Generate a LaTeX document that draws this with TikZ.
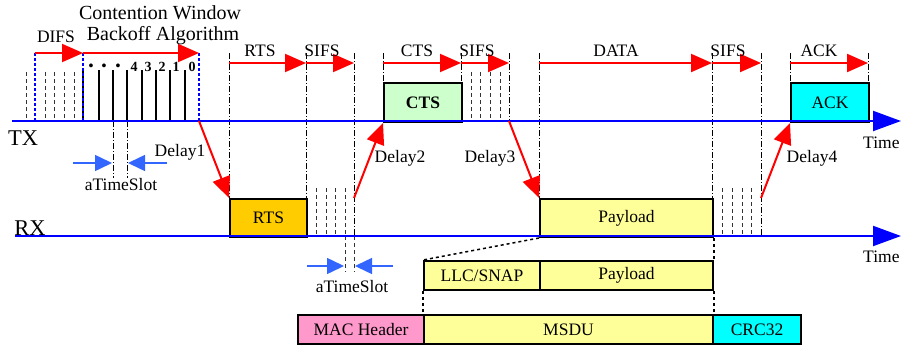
\documentclass[tikz,border=0pt]{standalone}
\usepackage{fontspec}
\setmainfont{Liberation Serif}
\usetikzlibrary{arrows.meta}
\definecolor{rtsorange}{HTML}{FFCC00}
\definecolor{ctsgreen}{HTML}{CCFFCC}
\definecolor{paleyellow}{HTML}{FFFF99}
\definecolor{macpink}{HTML}{FF99CC}
\definecolor{ackcyan}{HTML}{00FFFF}
\definecolor{slotblue}{HTML}{3366FF}
\begin{document}
\begin{tikzpicture}[x=1pt,y=-1pt,
  lbl/.style={font=\fontsize{17.5}{20}\selectfont, inner sep=0pt},
  biglbl/.style={font=\fontsize{20}{22}\selectfont, inner sep=0pt},
  axislbl/.style={font=\fontsize{22.5}{24}\selectfont, inner sep=0pt},
  numlbl/.style={font=\fontsize{14}{15}\selectfont\bfseries, inner sep=0pt},
  framebox/.style={draw=black, line width=2pt, inner sep=0pt, anchor=north west, font=\fontsize{17.5}{20}\selectfont},
  axisline/.style={draw=blue, line width=2pt, -{Triangle[length=28pt,width=20pt]}},
  redarrow/.style={draw=red, line width=2pt, -{Triangle[length=21pt,width=18pt]}},
  ddline/.style={draw=black, line width=0.7pt, dash pattern=on 6pt off 2pt on 1pt off 2pt},
  shortdash/.style={draw=black!80, line width=1pt, dash pattern=on 4pt off 3pt},
  bluedot/.style={draw=blue, line width=2pt, dash pattern=on 3pt off 2pt},
  solidtick/.style={draw=black, line width=2pt},
  slotarrow/.style={draw=slotblue, line width=1.5pt, -{Triangle[length=17pt,width=16pt]}},
  dotline/.style={draw=black, line width=1.5pt, dash pattern=on 3pt off 3pt},
]
\useasboundingbox (0,0) rectangle (901,348);

% ---------- TX left: DIFS + backoff ----------
\draw[shortdash] (26,72) -- (26,121);
\foreach \x in {45,54,64,74} \draw[shortdash] (\x,72) -- (\x,121);
\draw[solidtick] (83,70) -- (83,121);
\foreach \x in {99,113,127,142,156,170,185} \draw[solidtick] (\x,70) -- (\x,121);
\foreach \x in {35,83,199} \draw[bluedot] (\x,53) -- (\x,121);
\node[numlbl] (d1) at (91,67) {\textbullet};
\node[numlbl] (d2) at (104,67) {\textbullet};
\node[numlbl] (d3) at (118,67) {\textbullet};
\node[numlbl] (n4) at (134,67) {4};
\node[numlbl] (n3) at (148,67) {3};
\node[numlbl] (n2) at (162,67) {2};
\node[numlbl] (n1) at (176,67) {1};
\node[numlbl] (n0) at (192,67) {0};

\coordinate (difsA) at (35,53);
\coordinate (difsB) at (83,53);
\coordinate (cwB) at (199,53);
\draw[redarrow] (difsA) -- (difsB);
\draw[redarrow] (difsB) -- (cwB);
\node[lbl] (difs) at (56,37) {DIFS};
\node[biglbl] (cw1) at (160,13) {Contention Window};
\node[biglbl] (cw2) at (163,36) {Backoff Algorithm};

% aTimeSlot (upper)
\draw[ddline] (113,121) -- (113,178);
\draw[ddline] (127,121) -- (127,178);
\coordinate (s1a) at (73,163); \coordinate (s1b) at (112,163);
\coordinate (s2a) at (167,163); \coordinate (s2b) at (128,163);
\draw[slotarrow] (s1a) -- (s1b);
\draw[slotarrow] (s2a) -- (s2b);
\node[lbl] (slot1) at (121,185) {aTimeSlot};

% ---------- vertical dash-dot guides ----------
\draw[ddline] (229,53) -- (229,198);
\draw[ddline] (306,53) -- (306,236);
\draw[ddline] (354,53) -- (354,236);
\draw[ddline] (383,53) -- (383,82);
\draw[ddline] (461,53) -- (461,82);
\draw[ddline] (509,53) -- (509,121);
\draw[ddline] (539,53) -- (539,198);
\draw[ddline] (712,53) -- (712,198);
\draw[ddline] (761,53) -- (761,236);
\draw[ddline] (790,53) -- (790,82);
\draw[ddline] (868,53) -- (868,82);

% SIFS short dashes
\foreach \x in {316,326,335,345} \draw[shortdash] (\x,188) -- (\x,236);
\foreach \x in {471,480,490,500} \draw[shortdash] (\x,72) -- (\x,121);
\foreach \x in {722,732,742,751} \draw[shortdash] (\x,188) -- (\x,236);

% lower aTimeSlot
\draw[shortdash] (345,236) -- (345,272);
\draw[shortdash] (354,236) -- (354,272);
\coordinate (s3a) at (307,266); \coordinate (s3b) at (344,266);
\coordinate (s4a) at (393,266); \coordinate (s4b) at (355,266);
\draw[slotarrow] (s3a) -- (s3b);
\draw[slotarrow] (s4a) -- (s4b);
\node[lbl] (slot2) at (352,287) {aTimeSlot};

% ---------- top red arrows ----------
\foreach \a/\b in {229/306,306/354,383/461,461/509,539/712,712/761,790/868}
  \draw[redarrow] (\a,63) -- (\b,63);
\node[lbl] (lrts) at (260,51) {RTS};
\node[lbl] (lsifs1) at (322,51) {SIFS};
\node[lbl] (lcts) at (417,51) {CTS};
\node[lbl] (lsifs2) at (477,51) {SIFS};
\node[lbl] (ldata) at (616,51) {DATA};
\node[lbl] (lsifs3) at (728,51) {SIFS};
\node[lbl] (lack) at (819,51) {ACK};

% ---------- frames ----------
\node[framebox, fill=rtsorange, minimum width=77pt, minimum height=38pt] (rts) at (229,198) {RTS};
\node[framebox, fill=ctsgreen, minimum width=78pt, minimum height=39pt, font=\fontsize{17.5}{20}\selectfont\bfseries] (cts) at (383,82) {CTS};
\node[framebox, fill=ackcyan, minimum width=78pt, minimum height=39pt] (ack) at (790,82) {ACK};
\node[framebox, fill=paleyellow, minimum width=173pt, minimum height=38pt] (pay) at (539,198) {Payload};
\node[framebox, fill=paleyellow, minimum width=116pt, minimum height=29pt] (llc) at (423,260) {LLC/SNAP};
\node[framebox, fill=paleyellow, minimum width=173pt, minimum height=29pt] (pay2) at (539,260) {Payload};
\node[framebox, fill=macpink, minimum width=126pt, minimum height=29pt] (mac) at (297,314) {MAC Header};
\node[framebox, fill=paleyellow, minimum width=289pt, minimum height=29pt] (msdu) at (423,314) {MSDU};
\node[framebox, fill=ackcyan, minimum width=88pt, minimum height=29pt] (crc) at (712,314) {CRC32};

% dotted expansion lines
\draw[dotline] (pay.south west) -- (llc.north west);
\draw[dotline] (llc.south west) -- (msdu.north west);
\draw[dotline] (pay.south east) -- (pay2.north east);
\draw[dotline] (pay2.south east) -- (msdu.north east);

% ---------- time axes ----------
\coordinate (txs) at (12,121); \coordinate (txe) at (901,121);
\coordinate (rxs) at (15,236); \coordinate (rxe) at (901,236);
\draw[axisline] (txs) -- (txe);
\draw[axisline] (rxs) -- (rxe);
\node[axislbl] (tx) at (23,138) {TX};
\node[axislbl] (rx) at (30,228) {RX};
\node[lbl, anchor=west] (time1) at (863,143) {Time};
\node[lbl, anchor=west] (time2) at (863,257) {Time};

% ---------- delay arrows ----------
\coordinate (cwend) at (199,121);
\coordinate (sifs1end) at (354,198);
\coordinate (sifs2end) at (509,121);
\coordinate (sifs3end) at (761,198);
\draw[redarrow] (cwend) -- (rts.north west);
\draw[redarrow] (sifs1end) -- (cts.south west);
\draw[redarrow] (sifs2end) -- (pay.north west);
\draw[redarrow] (sifs3end) -- (ack.south west);
\node[lbl] (dl1) at (180,152) {Delay1};
\node[lbl] (dl2) at (400,158) {Delay2};
\node[lbl] (dl3) at (490,158) {Delay3};
\node[lbl] (dl4) at (812,158) {Delay4};
\end{tikzpicture}
\end{document}
